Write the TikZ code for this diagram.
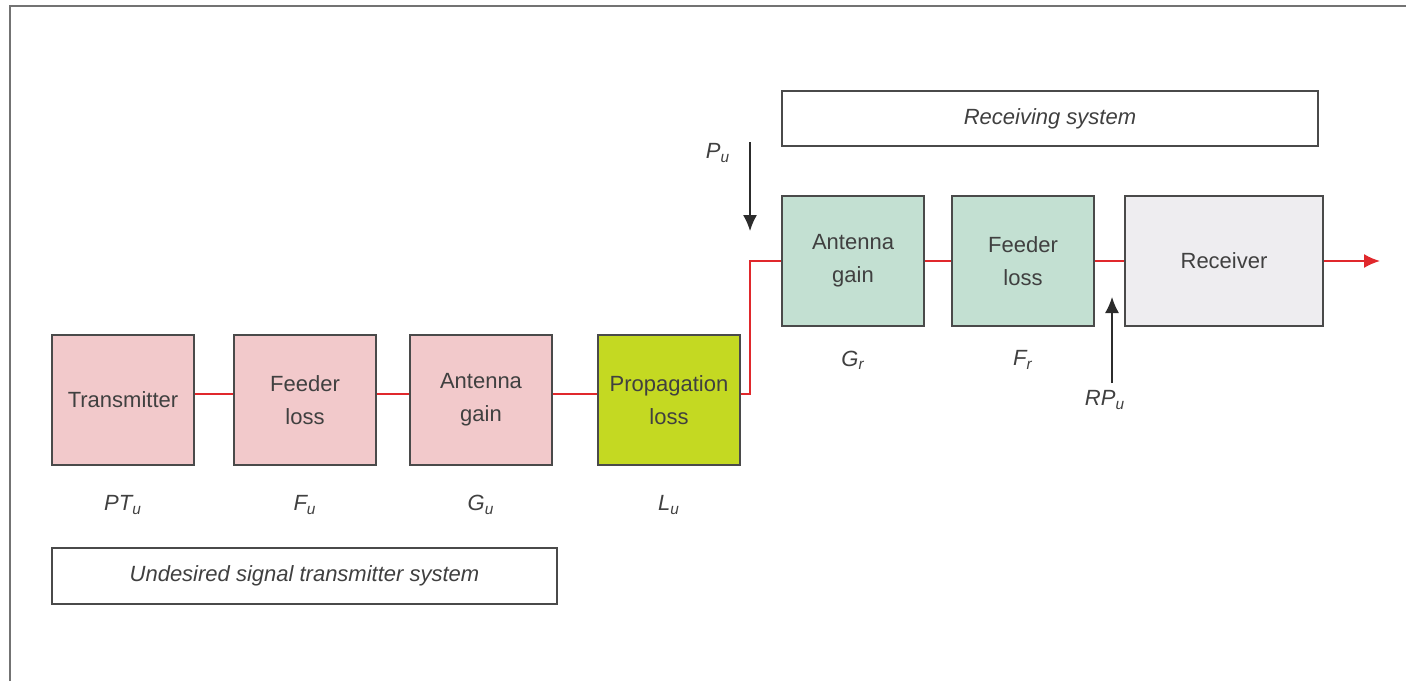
\documentclass[tikz,border=0pt]{standalone}
\usepackage{fontspec}
\setmainfont{Liberation Sans}
\usetikzlibrary{arrows.meta}
\definecolor{txpink}{HTML}{F2C9CB}
\definecolor{proplime}{HTML}{C4D922}
\definecolor{rxgreen}{HTML}{C3E0D2}
\definecolor{rxgrey}{HTML}{EEEDF0}
\definecolor{edgegrey}{HTML}{4A4A4A}
\definecolor{txtgrey}{HTML}{404040}
\definecolor{sigred}{HTML}{E0282C}
\begin{document}
\begin{tikzpicture}[x = .5pt, y = -.5pt,
    font = \fontsize{11}{16.5}\selectfont, text = txtgrey,
    block/.style = {draw = edgegrey, line width = 1pt, align = center,
      minimum width = 71pt, minimum height = 65pt, inner sep = 0pt},
    sysbox/.style = {draw = edgegrey, line width = 1pt, fill = white,
      font = \fontsize{11}{13}\selectfont\itshape, inner sep = 0pt},
    sig/.style = {draw = sigred, line width = .9pt},
    lbl/.style = {font = \fontsize{11}{13}\selectfont\itshape}]
  \useasboundingbox (0,0) rectangle (1406,681);
  \draw [gray!90!black, line width = 1.2pt] (10,681) -- (10,6) -- (1406,6);
  % undesired transmitter chain
  \node [block, fill = txpink] (tx)    at (123,400) {Transmitter};
  \node [block, fill = txpink] (feedu) at (305,400) {Feeder\\loss};
  \node [block, fill = txpink] (antu)  at (481,400) {Antenna\\gain};
  \node [block, fill = proplime] (prop) at (669,400) {Propagation\\loss};
  \node [lbl] (ptu) at (123,505) {PT\textsubscript{u}};
  \node [lbl] (fu)  at (305,505) {F\textsubscript{u}};
  \node [lbl] (gu)  at (481,505) {G\textsubscript{u}};
  \node [lbl] (lu)  at (669,505) {L\textsubscript{u}};
  \node [sysbox, minimum width = 252.5pt, minimum height = 28pt] (txsys)
    at (304.5,576) {Undesired signal transmitter system};
  % receiving chain
  \node [block, fill = rxgreen] (antr)  at (853,261)  {Antenna\\gain};
  \node [block, fill = rxgreen] (feedr) at (1023,261) {Feeder\\loss};
  \node [block, fill = rxgrey, minimum width = 99pt] (rx) at (1224,261) {Receiver};
  \node [lbl] (gr) at (853,360)  {G\textsubscript{r}};
  \node [lbl] (fr) at (1023,360) {F\textsubscript{r}};
  \node [sysbox, minimum width = 268pt, minimum height = 27.5pt] (rxsys)
    at (1050,118.5) {Receiving system};
  % signal path
  \draw [sig] ([yshift = 3pt]tx.east) -- ([yshift = 3pt]feedu.west);
  \draw [sig] ([yshift = 3pt]feedu.east) -- ([yshift = 3pt]antu.west);
  \draw [sig] ([yshift = 3pt]antu.east) -- ([yshift = 3pt]prop.west);
  \draw [sig] ([yshift = 3pt]prop.east) -- ++(9,0) |- (antr.west);
  \draw [sig] (antr) -- (feedr);
  \draw [sig] (feedr) -- (rx);
  \coordinate (out) at (1380,261);
  \draw [sig, -{Latex[length = 8pt, width = 7pt]}] (rx.east) -- (out);
  % power reference points
  \node [lbl] (pu)  at (718,153)  {P\textsubscript{u}};
  \node [lbl] (rpu) at (1105,400) {RP\textsubscript{u}};
  \coordinate (putop) at (750,142);
  \coordinate (putip) at (750,231);
  \draw [edgegrey!60!black, line width = .7pt, -{Latex[length = 8pt, width = 7pt]}]
    (putop) -- (putip);
  \coordinate (rpubot) at (1112,383);
  \coordinate (rputip) at (1112,297);
  \draw [edgegrey!60!black, line width = .7pt, -{Latex[length = 8pt, width = 7pt]}]
    (rpubot) -- (rputip);
\end{tikzpicture}
\end{document}
